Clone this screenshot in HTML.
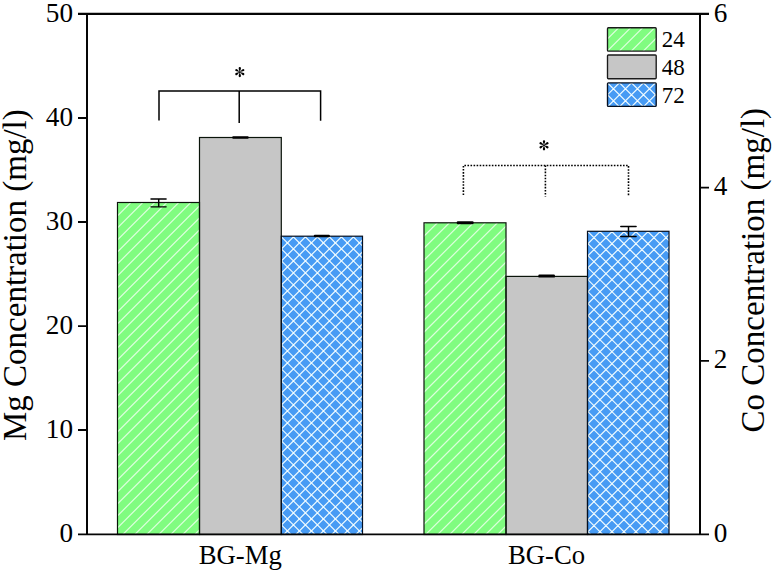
<!DOCTYPE html>
<html>
<head>
<meta charset="utf-8">
<style>
html,body{margin:0;padding:0;background:#fff;}
body{width:774px;height:573px;overflow:hidden;}
svg{display:block;}
text{font-family:"Liberation Serif",serif;fill:#000;}
</style>
</head>
<body>
<svg width="774" height="573" viewBox="0 0 774 573">
<defs>
<clipPath id="c0"><rect x="117.5" y="202.5" width="82.00" height="332.00" rx="0"/></clipPath>
<clipPath id="c1"><rect x="199.5" y="137.5" width="81.80" height="397.00" rx="0"/></clipPath>
<clipPath id="c2"><rect x="281.3" y="236.2" width="81.20" height="298.30" rx="0"/></clipPath>
<clipPath id="c3"><rect x="424.0" y="222.8" width="82.00" height="311.70" rx="0"/></clipPath>
<clipPath id="c4"><rect x="506.0" y="276.4" width="81.50" height="258.10" rx="0"/></clipPath>
<clipPath id="c5"><rect x="587.5" y="231.3" width="81.50" height="303.20" rx="0"/></clipPath>
<clipPath id="c6"><rect x="607.5" y="27.75" width="48.70" height="23.35" rx="0.9"/></clipPath>
<clipPath id="c7"><rect x="607.5" y="54.95" width="48.70" height="23.75" rx="0.9"/></clipPath>
<clipPath id="c8"><rect x="607.5" y="82.9" width="48.70" height="23.40" rx="0.9"/></clipPath>
<path id="petal" d="M0,0 C-0.25,-1.2 -1.15,-2.9 -1.15,-3.95 A1.15,1.15 0 0 1 1.15,-3.95 C1.15,-2.9 0.25,-1.2 0,0 Z"/>
<g id="ast">
<use href="#petal"/>
<use href="#petal" transform="rotate(60)"/>
<use href="#petal" transform="rotate(120)"/>
<use href="#petal" transform="rotate(180)"/>
<use href="#petal" transform="rotate(240)"/>
<use href="#petal" transform="rotate(300)"/>
<circle r="0.9"/>
</g>
</defs>
<rect x="117.5" y="202.5" width="82.00" height="332.00" rx="0" fill="#80fc80"/>
<path clip-path="url(#c0)" d="M-215.20,536.50L120.80,200.50M-203.20,536.50L132.80,200.50M-191.20,536.50L144.80,200.50M-179.20,536.50L156.80,200.50M-167.20,536.50L168.80,200.50M-155.20,536.50L180.80,200.50M-143.20,536.50L192.80,200.50M-131.20,536.50L204.80,200.50M-119.20,536.50L216.80,200.50M-107.20,536.50L228.80,200.50M-95.20,536.50L240.80,200.50M-83.20,536.50L252.80,200.50M-71.20,536.50L264.80,200.50M-59.20,536.50L276.80,200.50M-47.20,536.50L288.80,200.50M-35.20,536.50L300.80,200.50M-23.20,536.50L312.80,200.50M-11.20,536.50L324.80,200.50M0.80,536.50L336.80,200.50M12.80,536.50L348.80,200.50M24.80,536.50L360.80,200.50M36.80,536.50L372.80,200.50M48.80,536.50L384.80,200.50M60.80,536.50L396.80,200.50M72.80,536.50L408.80,200.50M84.80,536.50L420.80,200.50M96.80,536.50L432.80,200.50M108.80,536.50L444.80,200.50M120.80,536.50L456.80,200.50M132.80,536.50L468.80,200.50M144.80,536.50L480.80,200.50M156.80,536.50L492.80,200.50M168.80,536.50L504.80,200.50M180.80,536.50L516.80,200.50M192.80,536.50L528.80,200.50" stroke="#dcffdc" stroke-width="1.2" fill="none"/>
<rect x="199.5" y="137.5" width="81.80" height="397.00" rx="0" fill="#c6c6c6"/>
<rect x="281.3" y="236.2" width="81.20" height="298.30" rx="0" fill="#479bf4"/>
<path clip-path="url(#c2)" d="M-18.20,536.50L284.10,234.20M-6.20,536.50L296.10,234.20M5.80,536.50L308.10,234.20M17.80,536.50L320.10,234.20M29.80,536.50L332.10,234.20M41.80,536.50L344.10,234.20M53.80,536.50L356.10,234.20M65.80,536.50L368.10,234.20M77.80,536.50L380.10,234.20M89.80,536.50L392.10,234.20M101.80,536.50L404.10,234.20M113.80,536.50L416.10,234.20M125.80,536.50L428.10,234.20M137.80,536.50L440.10,234.20M149.80,536.50L452.10,234.20M161.80,536.50L464.10,234.20M173.80,536.50L476.10,234.20M185.80,536.50L488.10,234.20M197.80,536.50L500.10,234.20M209.80,536.50L512.10,234.20M221.80,536.50L524.10,234.20M233.80,536.50L536.10,234.20M245.80,536.50L548.10,234.20M257.80,536.50L560.10,234.20M269.80,536.50L572.10,234.20M281.80,536.50L584.10,234.20M293.80,536.50L596.10,234.20M305.80,536.50L608.10,234.20M317.80,536.50L620.10,234.20M329.80,536.50L632.10,234.20M341.80,536.50L644.10,234.20M353.80,536.50L656.10,234.20M-9.30,234.20L293.00,536.50M2.70,234.20L305.00,536.50M14.70,234.20L317.00,536.50M26.70,234.20L329.00,536.50M38.70,234.20L341.00,536.50M50.70,234.20L353.00,536.50M62.70,234.20L365.00,536.50M74.70,234.20L377.00,536.50M86.70,234.20L389.00,536.50M98.70,234.20L401.00,536.50M110.70,234.20L413.00,536.50M122.70,234.20L425.00,536.50M134.70,234.20L437.00,536.50M146.70,234.20L449.00,536.50M158.70,234.20L461.00,536.50M170.70,234.20L473.00,536.50M182.70,234.20L485.00,536.50M194.70,234.20L497.00,536.50M206.70,234.20L509.00,536.50M218.70,234.20L521.00,536.50M230.70,234.20L533.00,536.50M242.70,234.20L545.00,536.50M254.70,234.20L557.00,536.50M266.70,234.20L569.00,536.50M278.70,234.20L581.00,536.50M290.70,234.20L593.00,536.50M302.70,234.20L605.00,536.50M314.70,234.20L617.00,536.50M326.70,234.20L629.00,536.50M338.70,234.20L641.00,536.50M350.70,234.20L653.00,536.50" stroke="#f0fcff" stroke-width="1.2" fill="none"/>
<rect x="424.0" y="222.8" width="82.00" height="311.70" rx="0" fill="#80fc80"/>
<path clip-path="url(#c3)" d="M111.70,536.50L427.40,220.80M123.70,536.50L439.40,220.80M135.70,536.50L451.40,220.80M147.70,536.50L463.40,220.80M159.70,536.50L475.40,220.80M171.70,536.50L487.40,220.80M183.70,536.50L499.40,220.80M195.70,536.50L511.40,220.80M207.70,536.50L523.40,220.80M219.70,536.50L535.40,220.80M231.70,536.50L547.40,220.80M243.70,536.50L559.40,220.80M255.70,536.50L571.40,220.80M267.70,536.50L583.40,220.80M279.70,536.50L595.40,220.80M291.70,536.50L607.40,220.80M303.70,536.50L619.40,220.80M315.70,536.50L631.40,220.80M327.70,536.50L643.40,220.80M339.70,536.50L655.40,220.80M351.70,536.50L667.40,220.80M363.70,536.50L679.40,220.80M375.70,536.50L691.40,220.80M387.70,536.50L703.40,220.80M399.70,536.50L715.40,220.80M411.70,536.50L727.40,220.80M423.70,536.50L739.40,220.80M435.70,536.50L751.40,220.80M447.70,536.50L763.40,220.80M459.70,536.50L775.40,220.80M471.70,536.50L787.40,220.80M483.70,536.50L799.40,220.80M495.70,536.50L811.40,220.80" stroke="#dcffdc" stroke-width="1.2" fill="none"/>
<rect x="506.0" y="276.4" width="81.50" height="258.10" rx="0" fill="#c6c6c6"/>
<rect x="587.5" y="231.3" width="81.50" height="303.20" rx="0" fill="#479bf4"/>
<path clip-path="url(#c5)" d="M283.15,536.50L590.35,229.30M295.15,536.50L602.35,229.30M307.15,536.50L614.35,229.30M319.15,536.50L626.35,229.30M331.15,536.50L638.35,229.30M343.15,536.50L650.35,229.30M355.15,536.50L662.35,229.30M367.15,536.50L674.35,229.30M379.15,536.50L686.35,229.30M391.15,536.50L698.35,229.30M403.15,536.50L710.35,229.30M415.15,536.50L722.35,229.30M427.15,536.50L734.35,229.30M439.15,536.50L746.35,229.30M451.15,536.50L758.35,229.30M463.15,536.50L770.35,229.30M475.15,536.50L782.35,229.30M487.15,536.50L794.35,229.30M499.15,536.50L806.35,229.30M511.15,536.50L818.35,229.30M523.15,536.50L830.35,229.30M535.15,536.50L842.35,229.30M547.15,536.50L854.35,229.30M559.15,536.50L866.35,229.30M571.15,536.50L878.35,229.30M583.15,536.50L890.35,229.30M595.15,536.50L902.35,229.30M607.15,536.50L914.35,229.30M619.15,536.50L926.35,229.30M631.15,536.50L938.35,229.30M643.15,536.50L950.35,229.30M655.15,536.50L962.35,229.30M667.15,536.50L974.35,229.30M285.55,229.30L592.75,536.50M297.55,229.30L604.75,536.50M309.55,229.30L616.75,536.50M321.55,229.30L628.75,536.50M333.55,229.30L640.75,536.50M345.55,229.30L652.75,536.50M357.55,229.30L664.75,536.50M369.55,229.30L676.75,536.50M381.55,229.30L688.75,536.50M393.55,229.30L700.75,536.50M405.55,229.30L712.75,536.50M417.55,229.30L724.75,536.50M429.55,229.30L736.75,536.50M441.55,229.30L748.75,536.50M453.55,229.30L760.75,536.50M465.55,229.30L772.75,536.50M477.55,229.30L784.75,536.50M489.55,229.30L796.75,536.50M501.55,229.30L808.75,536.50M513.55,229.30L820.75,536.50M525.55,229.30L832.75,536.50M537.55,229.30L844.75,536.50M549.55,229.30L856.75,536.50M561.55,229.30L868.75,536.50M573.55,229.30L880.75,536.50M585.55,229.30L892.75,536.50M597.55,229.30L904.75,536.50M609.55,229.30L916.75,536.50M621.55,229.30L928.75,536.50M633.55,229.30L940.75,536.50M645.55,229.30L952.75,536.50M657.55,229.30L964.75,536.50" stroke="#f0fcff" stroke-width="1.2" fill="none"/>
<rect x="607.5" y="27.75" width="48.70" height="23.35" rx="0.9" fill="#80fc80"/>
<path clip-path="url(#c6)" d="M581.30,53.10L608.65,25.75M593.30,53.10L620.65,25.75M605.30,53.10L632.65,25.75M617.30,53.10L644.65,25.75M629.30,53.10L656.65,25.75M641.30,53.10L668.65,25.75M653.30,53.10L680.65,25.75" stroke="#dcffdc" stroke-width="1.2" fill="none"/>
<rect x="607.5" y="54.95" width="48.70" height="23.75" rx="0.9" fill="#c6c6c6"/>
<rect x="607.5" y="82.9" width="48.70" height="23.40" rx="0.9" fill="#479bf4"/>
<path clip-path="url(#c8)" d="M581.95,108.30L609.35,80.90M593.95,108.30L621.35,80.90M605.95,108.30L633.35,80.90M617.95,108.30L645.35,80.90M629.95,108.30L657.35,80.90M641.95,108.30L669.35,80.90M653.95,108.30L681.35,80.90M581.55,80.90L608.95,108.30M593.55,80.90L620.95,108.30M605.55,80.90L632.95,108.30M617.55,80.90L644.95,108.30M629.55,80.90L656.95,108.30M641.55,80.90L668.95,108.30M653.55,80.90L680.95,108.30" stroke="#f0fcff" stroke-width="1.2" fill="none"/>
<rect x="117.5" y="202.5" width="82.00" height="332.00" fill="none" stroke="#0a140a" stroke-width="1.2"/>
<rect x="199.5" y="137.5" width="81.80" height="397.00" fill="none" stroke="#0a140a" stroke-width="1.2"/>
<rect x="281.3" y="236.2" width="81.20" height="298.30" fill="none" stroke="#061020" stroke-width="1.2"/>
<rect x="424.0" y="222.8" width="82.00" height="311.70" fill="none" stroke="#0a140a" stroke-width="1.2"/>
<rect x="506.0" y="276.4" width="81.50" height="258.10" fill="none" stroke="#0a140a" stroke-width="1.2"/>
<rect x="587.5" y="231.3" width="81.50" height="303.20" fill="none" stroke="#061020" stroke-width="1.2"/>
<rect x="607.5" y="27.75" width="48.70" height="23.35" rx="0.9" fill="none" stroke="#1a1a1a" stroke-width="1.35"/>
<rect x="607.5" y="54.95" width="48.70" height="23.75" rx="0.9" fill="none" stroke="#1a1a1a" stroke-width="1.35"/>
<rect x="607.5" y="82.9" width="48.70" height="23.40" rx="0.9" fill="none" stroke="#061020" stroke-width="1.35"/>

<g stroke="#000" stroke-width="1.45" fill="none" stroke-linecap="round">
<path d="M158.7,198.9 V206.85 M151,198.9 H166.1 M151,206.85 H166.1"/>
<path d="M628.5,226.4 V236.4 M620.8,226.4 H636.1 M620.8,236.4 H636.1"/>
</g>
<g fill="#000">
<rect x="232.2" y="136.3" width="16.5" height="2.4" rx="1"/>
<rect x="313.8" y="234.8" width="16.1" height="2.5" rx="1"/>
<rect x="456.7" y="221.3" width="17" height="3" rx="1.2"/>
<rect x="538.3" y="274.6" width="16.7" height="3" rx="1.2"/>
</g>

<g stroke="#050505" fill="none">
<path d="M87,13.9 V534.4 M700,13.9 V534.4" stroke-width="2"/>
<path d="M78,13.9 H709" stroke-width="2.1"/>
<path d="M78,534.4 H709" stroke-width="1.8"/>
<path d="M78,118 H87 M78,222 H87 M78,326.2 H87 M78,430 H87 M700,187.6 H709 M700,360.8 H709" stroke-width="1.8"/>
</g>

<g font-size="27.2" text-anchor="end">
<text x="73" y="21.7">50</text>
<text x="73" y="125.7">40</text>
<text x="73" y="229.7">30</text>
<text x="73" y="333.7">20</text>
<text x="73" y="437.7">10</text>
<text x="73" y="541.8">0</text>
</g>
<g font-size="27.2">
<text x="713.7" y="21.7">6</text>
<text x="713.7" y="194.9">4</text>
<text x="713.7" y="368.3">2</text>
<text x="713.7" y="541.9">0</text>
</g>
<g font-size="26.7" text-anchor="middle">
<text x="240.3" y="564.2">BG-Mg</text>
<text x="546.5" y="564.3">BG-Co</text>
</g>
<text font-size="33" transform="translate(26.3,441) rotate(-90)">Mg Concentration (mg/l)</text>
<text font-size="33" transform="translate(763.5,432.4) rotate(-90)">Co Concentration (mg/l)</text>

<path d="M159,120.4 V91.1 H320.6 V120.7 M239.2,91.1 V122.9" stroke="#000" stroke-width="1.5" fill="none"/>
<path d="M463.4,195 V165.5 H628.5 V195.5 M545.4,165.5 V196.5" stroke="#000" stroke-width="1.6" fill="none" stroke-dasharray="1.6 1.45"/>
<use href="#ast" transform="translate(239.8,72.1)" fill="#000"/>
<use href="#ast" transform="translate(544,145.3)" fill="#000"/>

<g font-size="23">
<text x="661.8" y="46.8">24</text>
<text x="661.8" y="74.6">48</text>
<text x="661.8" y="102.5">72</text>
</g>
</svg>
</body>
</html>
